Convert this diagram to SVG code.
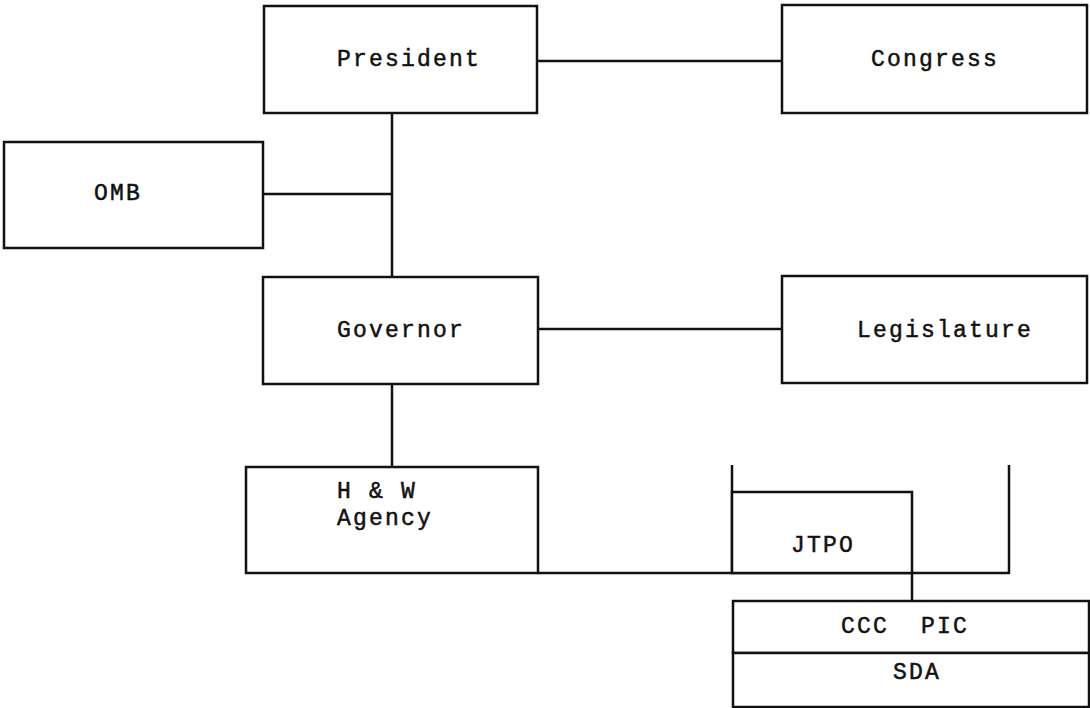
<svg xmlns="http://www.w3.org/2000/svg" width="1090" height="708" viewBox="0 0 1090 708">
  <style>
    .box { fill: #ffffff; stroke: #111111; stroke-width: 2.5; }
    .line { fill: none; stroke: #111111; stroke-width: 2.5; }
    .label { font-family: "Liberation Mono", "Courier New", monospace; font-size: 23px; letter-spacing: 2.2px; fill: #111111; stroke: #111111; stroke-width: 0.5px; }
    .mid { text-anchor: middle; }
  </style>
  <rect width="1090" height="708" fill="#ffffff"/>

  <!-- connectors -->
  <g id="connectors">
    <line class="line" x1="537" y1="61" x2="782" y2="61"/>
    <line class="line" x1="392" y1="113" x2="392" y2="277"/>
    <line class="line" x1="263" y1="194" x2="392" y2="194"/>
    <line class="line" x1="538" y1="329" x2="782" y2="329"/>
    <line class="line" x1="392" y1="384" x2="392" y2="467"/>
    <polyline class="line" points="538,573 1009,573 1009,465"/>
    <line class="line" x1="732" y1="465" x2="732" y2="573"/>
    <line class="line" x1="912" y1="573" x2="912" y2="601"/>
  </g>

  <g id="president">
    <rect class="box" x="264" y="6" width="273" height="107"/>
    <text class="label mid" x="409" y="66">President</text>
  </g>

  <g id="congress">
    <rect class="box" x="782" y="5" width="305" height="108"/>
    <text class="label mid" x="935" y="66">Congress</text>
  </g>

  <g id="omb">
    <rect class="box" x="4" y="142" width="259" height="106"/>
    <text class="label mid" x="118" y="200">OMB</text>
  </g>

  <g id="governor">
    <rect class="box" x="263" y="277" width="275" height="107"/>
    <text class="label mid" x="401" y="337">Governor</text>
  </g>

  <g id="legislature">
    <rect class="box" x="782" y="276" width="305" height="107"/>
    <text class="label mid" x="945" y="337">Legislature</text>
  </g>

  <g id="hw-agency">
    <rect class="box" x="246" y="467" width="292" height="106"/>
    <text class="label" x="337" y="498">H &amp; W</text>
    <text class="label" x="337" y="525">Agency</text>
  </g>

  <g id="jtpo">
    <rect class="box" x="732" y="492" width="180" height="81"/>
    <text class="label mid" x="823" y="552">JTPO</text>
  </g>

  <g id="ccc-pic">
    <rect class="box" x="733" y="601" width="356" height="52"/>
    <text class="label mid" x="905" y="633" xml:space="preserve">CCC  PIC</text>
  </g>

  <g id="sda">
    <rect class="box" x="733" y="653" width="356" height="54"/>
    <text class="label mid" x="917" y="679">SDA</text>
  </g>
</svg>
